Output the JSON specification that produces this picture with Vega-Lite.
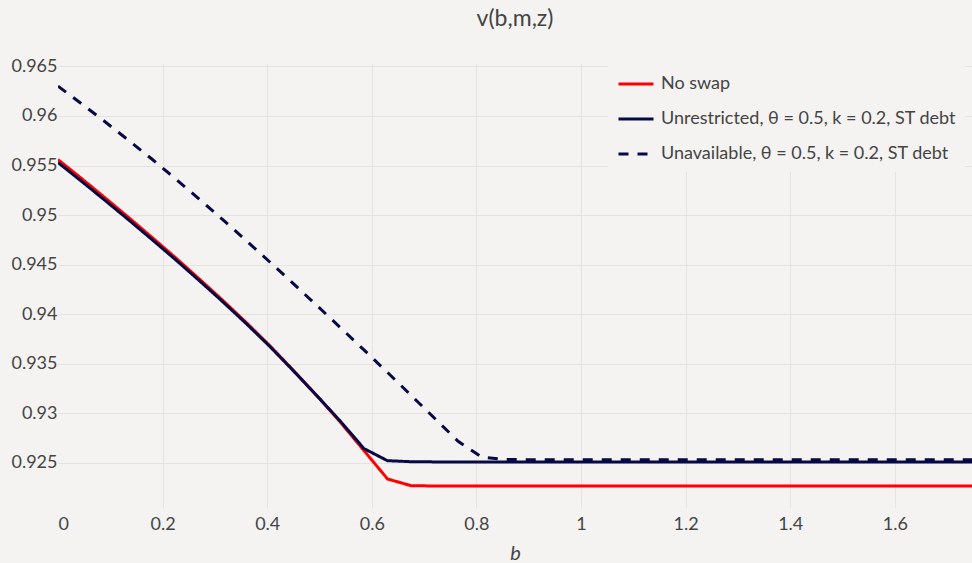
{
  "$schema": "https://vega.github.io/schema/vega-lite/v6.json",
  "width": 914,
  "height": 445,
  "autosize": {"type": "none"},
  "padding": {"left": 58, "top": 63, "right": 0, "bottom": 55},
  "background": "#f4f3f1",
  "config": {
    "view": {"stroke": null},
    "font": "Lato",
    "legend": {
      "orient": "none",
      "legendX": 550,
      "legendY": -7,
      "fillColor": "#f4f3f1",
      "padding": 9,
      "symbolType": "stroke",
      "symbolSize": 1225,
      "symbolStrokeWidth": 3,
      "labelFontSize": 18,
      "labelColor": "#444444",
      "labelFont": "Lato",
      "labelOffset": 6,
      "rowPadding": 7,
      "labelLimit": 400
    }
  },
  "title": {
    "text": "v(b,m,z)",
    "font": "Lato",
    "fontSize": 23,
    "fontWeight": "normal",
    "color": "#444444",
    "anchor": "middle",
    "offset": 25
  },
  "data": {
    "values": [
      {"b": 0, "n": 0.95560, "u": 0.95530, "a": 0.96301},
      {"b": 0.045, "n": 0.95369, "u": 0.95341, "a": 0.96123},
      {"b": 0.09, "n": 0.95174, "u": 0.95148, "a": 0.95941},
      {"b": 0.135, "n": 0.94976, "u": 0.94952, "a": 0.95754},
      {"b": 0.18, "n": 0.94774, "u": 0.94752, "a": 0.95563},
      {"b": 0.225, "n": 0.94569, "u": 0.94549, "a": 0.95365},
      {"b": 0.27, "n": 0.94357, "u": 0.94340, "a": 0.95162},
      {"b": 0.315, "n": 0.94140, "u": 0.94126, "a": 0.94954},
      {"b": 0.36, "n": 0.93916, "u": 0.93905, "a": 0.94742},
      {"b": 0.405, "n": 0.93683, "u": 0.93675, "a": 0.94527},
      {"b": 0.45, "n": 0.93434, "u": 0.93430, "a": 0.94309},
      {"b": 0.495, "n": 0.93178, "u": 0.93178, "a": 0.94088},
      {"b": 0.54, "n": 0.92911, "u": 0.92921, "a": 0.93865},
      {"b": 0.585, "n": 0.92625, "u": 0.92645, "a": 0.93640},
      {"b": 0.63, "n": 0.92339, "u": 0.92523, "a": 0.93413},
      {"b": 0.675, "n": 0.92271, "u": 0.92513, "a": 0.93183},
      {"b": 0.72, "n": 0.92268, "u": 0.92511, "a": 0.92951},
      {"b": 0.765, "n": 0.92268, "u": 0.92510, "a": 0.92719},
      {"b": 0.81, "n": 0.92268, "u": 0.92510, "a": 0.92560},
      {"b": 0.855, "n": 0.92268, "u": 0.92510, "a": 0.92535},
      {"b": 0.9, "n": 0.92268, "u": 0.92510, "a": 0.92533},
      {"b": 0.945, "n": 0.92268, "u": 0.92510, "a": 0.92533},
      {"b": 0.99, "n": 0.92268, "u": 0.92510, "a": 0.92533},
      {"b": 1.035, "n": 0.92268, "u": 0.92510, "a": 0.92533},
      {"b": 1.08, "n": 0.92268, "u": 0.92510, "a": 0.92533},
      {"b": 1.125, "n": 0.92268, "u": 0.92510, "a": 0.92533},
      {"b": 1.17, "n": 0.92268, "u": 0.92510, "a": 0.92533},
      {"b": 1.215, "n": 0.92268, "u": 0.92510, "a": 0.92533},
      {"b": 1.26, "n": 0.92268, "u": 0.92510, "a": 0.92533},
      {"b": 1.305, "n": 0.92268, "u": 0.92510, "a": 0.92533},
      {"b": 1.35, "n": 0.92268, "u": 0.92510, "a": 0.92533},
      {"b": 1.395, "n": 0.92268, "u": 0.92510, "a": 0.92533},
      {"b": 1.44, "n": 0.92268, "u": 0.92510, "a": 0.92533},
      {"b": 1.485, "n": 0.92268, "u": 0.92510, "a": 0.92533},
      {"b": 1.53, "n": 0.92268, "u": 0.92510, "a": 0.92533},
      {"b": 1.575, "n": 0.92268, "u": 0.92510, "a": 0.92533},
      {"b": 1.62, "n": 0.92268, "u": 0.92510, "a": 0.92533},
      {"b": 1.665, "n": 0.92268, "u": 0.92510, "a": 0.92533},
      {"b": 1.71, "n": 0.92268, "u": 0.92510, "a": 0.92533},
      {"b": 1.755, "n": 0.92268, "u": 0.92510, "a": 0.92533},
      {"b": 1.8, "n": 0.92268, "u": 0.92510, "a": 0.92533}
    ]
  },
  "transform": [{"fold": ["n", "u", "a"], "as": ["s", "v"]}],
  "mark": {"type": "line", "strokeWidth": 3, "clip": true},
  "encoding": {
    "x": {
      "field": "b",
      "type": "quantitative",
      "scale": {"domain": [0, 1.7475], "nice": false, "zero": false},
      "axis": {
        "values": [0, 0.2, 0.4, 0.6, 0.8, 1, 1.2, 1.4, 1.6],
        "format": "~g",
        "domain": false,
        "ticks": false,
        "labelFontSize": 18,
        "labelColor": "#444444",
        "labelPadding": 7,
        "gridColor": {"condition": {"test": "datum.value === 0", "value": "transparent"}, "value": "#e4e3e0"},
        "title": "b",
        "titleFontStyle": "italic",
        "titleFontWeight": "normal",
        "titleFontSize": 20,
        "titleColor": "#444444",
        "titlePadding": 10
      }
    },
    "y": {
      "field": "v",
      "type": "quantitative",
      "scale": {"domain": [0.92046, 0.96534], "nice": false, "zero": false},
      "axis": {
        "values": [0.925, 0.93, 0.935, 0.94, 0.945, 0.95, 0.955, 0.96, 0.965],
        "format": ".3~f",
        "domain": false,
        "ticks": false,
        "labelFontSize": 18,
        "labelColor": "#444444",
        "labelPadding": 1,
        "gridColor": "#e4e3e0",
        "title": null
      }
    },
    "color": {
      "field": "s",
      "type": "nominal",
      "scale": {"domain": ["n", "u", "a"], "range": ["#ff0000", "#050a46", "#050a46"]},
      "legend": {
        "title": null,
        "labelExpr": "datum.value == 'n' ? 'No swap' : (datum.value == 'u' ? 'Unrestricted, θ = 0.5, k = 0.2, ST debt' : 'Unavailable, θ = 0.5, k = 0.2, ST debt')"
      }
    },
    "strokeDash": {
      "field": "s",
      "type": "nominal",
      "scale": {"domain": ["n", "u", "a"], "range": [[1, 0], [1, 0], [10, 9]]},
      "legend": {
        "title": null,
        "labelExpr": "datum.value == 'n' ? 'No swap' : (datum.value == 'u' ? 'Unrestricted, θ = 0.5, k = 0.2, ST debt' : 'Unavailable, θ = 0.5, k = 0.2, ST debt')"
      }
    }
  }
}
